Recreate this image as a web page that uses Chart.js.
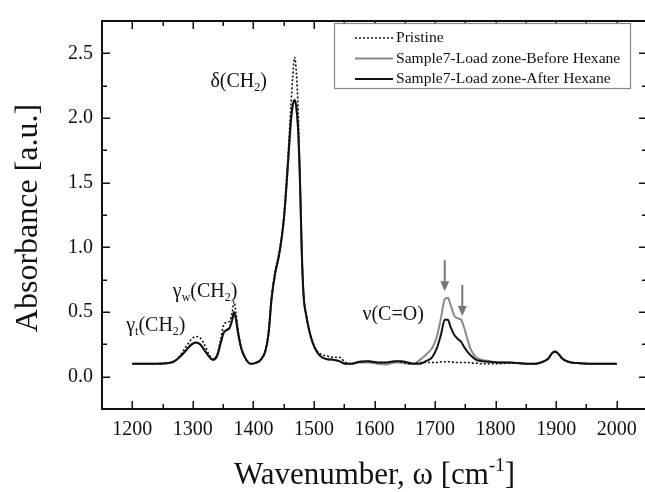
<!DOCTYPE html>
<html>
<head>
<meta charset="utf-8">
<script src="https://cdn.jsdelivr.net/npm/chart.js@4.4.1/dist/chart.umd.min.js"></script>
<style>
  html, body { margin: 0; padding: 0; background: #fff; overflow: hidden; }
  #wrap { width: 645px; height: 492px; overflow: hidden; }
  canvas { display: block; }
</style>
</head>
<body>
<div id="wrap"><canvas id="ftirChart" width="647" height="492"></canvas></div>
<script>
//-- Data (absorbance vs wavenumber) --
const wavenumber = [
  1200, 1220, 1240, 1260, 1270, 1280, 1290, 1298, 1305, 1312,
  1320, 1327, 1333, 1340, 1346, 1351, 1356, 1361, 1365, 1368,
  1371, 1375, 1380, 1387, 1395, 1403, 1412, 1420, 1425, 1430,
  1436, 1442, 1447, 1451, 1455, 1459, 1462, 1465, 1468, 1471,
  1474, 1477, 1480, 1483, 1487, 1492, 1498, 1505, 1513, 1522,
  1532, 1542, 1552, 1562, 1575, 1590, 1605, 1620, 1635, 1645,
  1655, 1665, 1675, 1685, 1695, 1703, 1710, 1716, 1721, 1726,
  1732, 1738, 1743, 1748, 1754, 1760, 1768, 1778, 1790, 1805,
  1820, 1835, 1850, 1865, 1878, 1887, 1893, 1898, 1903, 1910,
  1920, 1935, 1955, 1975, 2000
];

const pristine = [
  0.10, 0.10, 0.10, 0.105, 0.12, 0.17, 0.24, 0.29, 0.31, 0.30,
  0.24, 0.17, 0.135, 0.17, 0.29, 0.40, 0.42, 0.43, 0.50, 0.58,
  0.50, 0.35, 0.22, 0.14, 0.10, 0.105, 0.13, 0.21, 0.35, 0.62,
  0.82, 0.95, 1.10, 1.28, 1.55, 1.85, 2.10, 2.32, 2.47, 2.35,
  2.05, 1.55, 0.95, 0.63, 0.49, 0.37, 0.27, 0.20, 0.17, 0.16,
  0.15, 0.15, 0.11, 0.10, 0.115, 0.12, 0.11, 0.11, 0.12, 0.11,
  0.10, 0.10, 0.11, 0.11, 0.11, 0.11, 0.115, 0.115, 0.115, 0.115,
  0.11, 0.11, 0.11, 0.11, 0.11, 0.105, 0.105, 0.10, 0.10, 0.10,
  0.105, 0.105, 0.10, 0.10, 0.115, 0.14, 0.18, 0.195, 0.18, 0.14,
  0.115, 0.105, 0.10, 0.10, 0.10
];

const beforeHexane = [
  0.10, 0.10, 0.10, 0.105, 0.12, 0.16, 0.21, 0.25, 0.265, 0.25,
  0.20, 0.155, 0.13, 0.16, 0.26, 0.34, 0.36, 0.38, 0.44, 0.50,
  0.45, 0.33, 0.22, 0.14, 0.10, 0.105, 0.13, 0.20, 0.33, 0.60,
  0.80, 0.93, 1.08, 1.25, 1.50, 1.78, 1.98, 2.10, 2.14, 2.08,
  1.90, 1.50, 0.95, 0.62, 0.48, 0.36, 0.26, 0.19, 0.15, 0.135,
  0.13, 0.12, 0.10, 0.10, 0.11, 0.11, 0.10, 0.095, 0.11, 0.11,
  0.10, 0.10, 0.13, 0.17, 0.22, 0.31, 0.46, 0.60, 0.61, 0.55,
  0.47, 0.45, 0.44, 0.38, 0.28, 0.20, 0.15, 0.13, 0.12, 0.11,
  0.11, 0.105, 0.10, 0.10, 0.115, 0.14, 0.18, 0.195, 0.18, 0.14,
  0.115, 0.105, 0.10, 0.10, 0.10
];

const afterHexane = [
  0.10, 0.10, 0.10, 0.105, 0.12, 0.16, 0.21, 0.25, 0.265, 0.25,
  0.20, 0.155, 0.13, 0.16, 0.26, 0.34, 0.36, 0.38, 0.44, 0.50,
  0.45, 0.33, 0.22, 0.14, 0.10, 0.105, 0.13, 0.20, 0.33, 0.60,
  0.80, 0.93, 1.08, 1.25, 1.50, 1.78, 1.98, 2.10, 2.14, 2.08,
  1.90, 1.50, 0.95, 0.62, 0.48, 0.36, 0.26, 0.19, 0.15, 0.135,
  0.13, 0.12, 0.10, 0.10, 0.115, 0.12, 0.11, 0.11, 0.12, 0.12,
  0.11, 0.10, 0.10, 0.12, 0.15, 0.22, 0.33, 0.44, 0.44, 0.38,
  0.32, 0.29, 0.27, 0.23, 0.19, 0.16, 0.13, 0.12, 0.115, 0.11,
  0.11, 0.105, 0.10, 0.10, 0.115, 0.14, 0.18, 0.195, 0.18, 0.14,
  0.115, 0.105, 0.10, 0.10, 0.10
];

//-- Axis ticks --
const xTickValues = [1200, 1300, 1400, 1500, 1600, 1700, 1800, 1900, 2000];
const xMinorTicks = [1250, 1350, 1450, 1550, 1650, 1750, 1850, 1950];
const yTickValues = [0, 0.5, 1.0, 1.5, 2.0, 2.5];
const yMinorTicks = [0.25, 0.75, 1.25, 1.75, 2.25];

//-- Peak labels (data coords of baseline-left) and arrows --
const peakLabels = [
  { x: 1329, y: 2.24, parts: [['δ(CH', 'n'], ['2', 'sub'], [')', 'n']] },
  { x: 1267, y: 0.617, parts: [['γ', 'n'], ['w', 'sub'], ['(CH', 'n'], ['2', 'sub'], [')', 'n']] },
  { x: 1190, y: 0.354, parts: [['γ', 'n'], ['t', 'sub'], ['(CH', 'n'], ['2', 'sub'], [')', 'n']] },
  { x: 1580, y: 0.436, parts: [['ν(C=O)', 'n']] }
];
const arrowMarks = [
  { x: 1716, from: 0.90, to: 0.66 },
  { x: 1745, from: 0.71, to: 0.47 }
];

const INK = '#111';
const SERIF = '"Liberation Serif", "DejaVu Serif", serif';

function toPoints(values) {
  return wavenumber.map((x, i) => ({ x: x, y: values[i] }));
}

//-- Draw text with subscript / superscript parts, left-aligned at baseline --
function drawRich(ctx, x, y, parts, size) {
  let cx = x;
  parts.forEach(([txt, mode]) => {
    const s = mode === 'n' ? size : Math.round(size * 0.62);
    const dy = mode === 'sub' ? size * 0.22 : mode === 'sup' ? -size * 0.42 : 0;
    ctx.font = `${s}px ${SERIF}`;
    ctx.fillText(txt, cx, y + dy);
    cx += ctx.measureText(txt).width;
  });
  return cx - x;
}

function richWidth(ctx, parts, size) {
  let w = 0;
  parts.forEach(([txt, mode]) => {
    const s = mode === 'n' ? size : Math.round(size * 0.62);
    ctx.font = `${s}px ${SERIF}`;
    w += ctx.measureText(txt).width;
  });
  return w;
}

const frameAndNotes = {
  id: 'frameAndNotes',
  afterDraw(chart) {
    const { ctx, chartArea: a, scales: { x, y } } = chart;
    ctx.save();

    //-- top and right frame lines --
    ctx.strokeStyle = INK;
    ctx.lineWidth = 2;
    ctx.beginPath();
    ctx.moveTo(a.left, a.top); ctx.lineTo(a.right, a.top);
    ctx.moveTo(a.right, a.top); ctx.lineTo(a.right, a.bottom);
    ctx.stroke();

    //-- inward ticks on all four sides --
    ctx.lineWidth = 1.5;
    ctx.beginPath();
    const xt = (v, len) => {
      const px = Math.round(x.getPixelForValue(v)) + 0.25;
      ctx.moveTo(px, a.bottom); ctx.lineTo(px, a.bottom - len);
      ctx.moveTo(px, a.top); ctx.lineTo(px, a.top + len);
    };
    const yt = (v, len) => {
      const py = Math.round(y.getPixelForValue(v)) + 0.25;
      ctx.moveTo(a.left, py); ctx.lineTo(a.left + len, py);
      ctx.moveTo(a.right, py); ctx.lineTo(a.right - len, py);
    };
    xTickValues.forEach(v => xt(v, 8));
    xMinorTicks.forEach(v => xt(v, 5));
    yTickValues.forEach(v => yt(v, 8));
    yMinorTicks.forEach(v => yt(v, 5));
    ctx.stroke();

    //-- axis titles --
    ctx.fillStyle = INK;
    ctx.textBaseline = 'alphabetic';
    ctx.textAlign = 'left';
    const xTitle = [['Wavenumber, ω [cm', 'n'], ['-1', 'sup'], [']', 'n']];
    const xw = richWidth(ctx, xTitle, 31);
    drawRich(ctx, (a.left + a.right) / 2 - xw / 2, 484, xTitle, 31);

    ctx.save();
    ctx.translate(37, 218);
    ctx.rotate(-Math.PI / 2);
    ctx.font = `32px ${SERIF}`;
    ctx.textAlign = 'center';
    ctx.fillText('Absorbance [a.u.]', 0, 0);
    ctx.restore();

    //-- peak labels --
    ctx.textAlign = 'left';
    peakLabels.forEach(lbl => {
      drawRich(ctx, x.getPixelForValue(lbl.x), y.getPixelForValue(lbl.y), lbl.parts, 20);
    });

    //-- grey arrows over the carbonyl band --
    ctx.strokeStyle = '#777';
    ctx.fillStyle = '#777';
    ctx.lineWidth = 2;
    arrowMarks.forEach(ar => {
      const px = x.getPixelForValue(ar.x);
      const y0 = y.getPixelForValue(ar.from);
      const y1 = y.getPixelForValue(ar.to);
      ctx.beginPath();
      ctx.moveTo(px, y0); ctx.lineTo(px, y1 - 8);
      ctx.stroke();
      ctx.beginPath();
      ctx.moveTo(px - 4.5, y1 - 10); ctx.lineTo(px + 4.5, y1 - 10); ctx.lineTo(px, y1);
      ctx.closePath();
      ctx.fill();
    });

    //-- legend box --
    const lx = 334, ly = 23, lw = 296, lh = 65;
    ctx.fillStyle = '#fff';
    ctx.fillRect(lx, ly, lw, lh);
    ctx.strokeStyle = '#888';
    ctx.lineWidth = 1.2;
    ctx.strokeRect(lx + 0.5, ly + 0.5, lw, lh);
    chart.data.datasets.forEach((ds, i) => {
      const ry = 38 + i * 20.5;
      ctx.strokeStyle = ds.borderColor;
      ctx.lineWidth = ds.borderWidth;
      ctx.setLineDash(ds.borderDash || []);
      ctx.beginPath();
      ctx.moveTo(355, ry); ctx.lineTo(393, ry);
      ctx.stroke();
      ctx.setLineDash([]);
      ctx.fillStyle = INK;
      ctx.font = `15.6px ${SERIF}`;
      ctx.textBaseline = 'middle';
      ctx.fillText(ds.label, 396, ry);
    });

    ctx.restore();
  }
};

const ctx = document.getElementById('ftirChart').getContext('2d');
new Chart(ctx, {
  type: 'line',
  data: {
    datasets: [
      {
        label: 'Pristine',
        data: toPoints(pristine),
        borderColor: INK,
        borderWidth: 1.6,
        borderDash: [2, 2],
        order: 0
      },
      {
        label: 'Sample7-Load zone-Before Hexane',
        data: toPoints(beforeHexane),
        borderColor: '#8a8a8a',
        borderWidth: 2,
        order: 2
      },
      {
        label: 'Sample7-Load zone-After Hexane',
        data: toPoints(afterHexane),
        borderColor: INK,
        borderWidth: 2,
        order: 1
      }
    ]
  },
  options: {
    responsive: false,
    animation: false,
    devicePixelRatio: 1,
    layout: { padding: { left: 0, top: 8, right: 0, bottom: 0 } },
    elements: {
      point: { radius: 0 },
      line: { cubicInterpolationMode: 'monotone', fill: false }
    },
    plugins: {
      legend: { display: false },
      tooltip: { enabled: false }
    },
    scales: {
      x: {
        type: 'linear',
        min: 1150,
        max: 2050,
        grid: { display: false, drawTicks: false },
        border: { display: true, color: INK, width: 2 },
        ticks: {
          color: INK,
          font: { family: SERIF, size: 20 },
          padding: 9,
          maxRotation: 0,
          callback: v => String(v)
        },
        afterBuildTicks: s => { s.ticks = xTickValues.map(v => ({ value: v })); },
        afterFit: s => { s.height = 83; }
      },
      y: {
        type: 'linear',
        min: -0.25,
        max: 2.75,
        grid: { display: false, drawTicks: false },
        border: { display: true, color: INK, width: 2 },
        ticks: {
          color: INK,
          font: { family: SERIF, size: 20 },
          padding: 9,
          callback: v => v.toFixed(1)
        },
        afterBuildTicks: s => { s.ticks = yTickValues.map(v => ({ value: v })); },
        afterFit: s => { s.width = 102; }
      }
    }
  },
  plugins: [frameAndNotes]
});
</script>
</body>
</html>
